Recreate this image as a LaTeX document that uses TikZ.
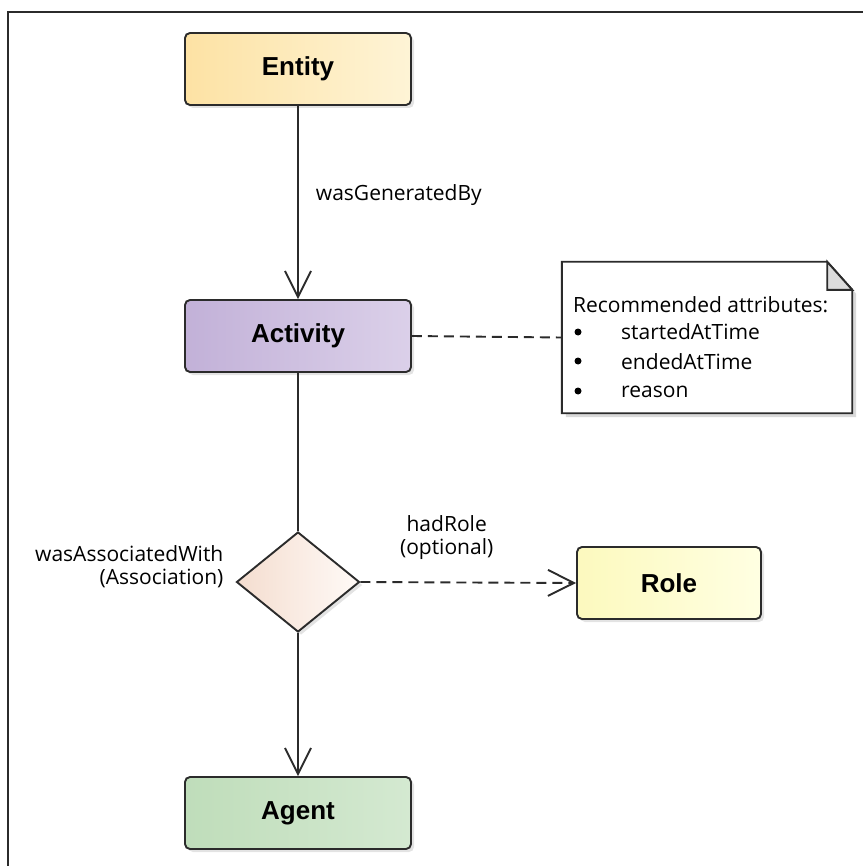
\documentclass[tikz,border=0pt]{standalone}
\usepackage{fontspec}
\setmainfont{Open Sans}
\newfontfamily\boxfont{Liberation Sans}
\usetikzlibrary{arrows.meta,shapes.geometric,shadows,calc}
\definecolor{lineC}{HTML}{2B2B2B}
\definecolor{entL}{HTML}{FDE2A4}
\definecolor{entR}{HTML}{FEF4D6}
\definecolor{actL}{HTML}{C2B1D8}
\definecolor{actR}{HTML}{DBD0E9}
\definecolor{agtL}{HTML}{BFDDBA}
\definecolor{agtR}{HTML}{D4E9D1}
\definecolor{rolL}{HTML}{FCF9BE}
\definecolor{rolR}{HTML}{FFFFE2}
\definecolor{diaL}{HTML}{F4DDCF}
\definecolor{diaR}{HTML}{FFFAF7}
\definecolor{foldC}{HTML}{DCDCDC}
\tikzset{
  classbox/.style={draw=lineC, line width=1.9pt, rounded corners=5pt,
    minimum width=226pt, minimum height=72pt, inner sep=0pt,
    font=\boxfont\bfseries\fontsize{26}{29}\selectfont,
    drop shadow={opacity=0.22, shadow xshift=3pt, shadow yshift=-3pt}},
  lbl/.style={font=\fontsize{21}{23}\selectfont, text=black, inner sep=0pt, align=center},
  bul/.style={circle, fill=black, inner sep=0pt, minimum size=7pt},
  conn/.style={draw=lineC, line width=1.9pt},
  openhead/.style={-{Straight Barb[length=26pt,width=26pt,line width=1.9pt]}},
  dashpat/.style={dash pattern=on 10pt off 6pt}
}
\begin{document}
\begin{tikzpicture}[x=1pt,y=-1pt]
\useasboundingbox (0,0) rectangle (863,866);
% frame
\draw[lineC, line width=1.6pt] (8,866) -- (8,12) -- (863,12);

% nodes
\node[classbox, left color=entL, right color=entR] (entity) at (298,69) {Entity};
\node[classbox, left color=actL, right color=actR] (activity) at (298,336) {Activity};
\node[classbox, left color=agtL, right color=agtR] (agent) at (298,813) {Agent};
\node[classbox, left color=rolL, right color=rolR, minimum width=184pt] (role) at (669,583) {Role};
\node[diamond, draw=lineC, line width=1.9pt, left color=diaL, right color=diaR,
      minimum width=123pt, minimum height=100pt, aspect=1.23, inner sep=0pt,
      drop shadow={opacity=0.22, shadow xshift=3pt, shadow yshift=-3pt}] (assoc) at (298,582) {};

% note
\node[minimum width=290pt, minimum height=151pt, inner sep=0pt] (note) at (707,337.5) {};
\fill[black, opacity=0.15] ($(note.north west)+(4,4)$) -- ($(note.north east)+(-21,4)$) -- ($(note.north east)+(4,32)$) -- ($(note.south east)+(4,4)$) -- ($(note.south west)+(4,4)$) -- cycle;
\filldraw[fill=white, draw=lineC, line width=1.9pt, line join=miter]
  (note.north west) -- ($(note.north east)+(-25,0)$) -- ($(note.north east)+(0,28)$) -- (note.south east) -- (note.south west) -- cycle;
\filldraw[fill=foldC, draw=lineC, line width=1.9pt, line join=miter]
  ($(note.north east)+(-25,0)$) -- ($(note.north east)+(-25,28)$) -- ($(note.north east)+(0,28)$) -- cycle;
\node[lbl, anchor=west] (nt) at (573,305) {Recommended attributes:};
\node[bul] (b1) at (578,332) {};
\node[bul] (b2) at (578,361) {};
\node[bul] (b3) at (578,391) {};
\node[lbl, anchor=west] (i1) at (621,332) {startedAtTime};
\node[lbl, anchor=west] (i2) at (621,362) {endedAtTime};
\node[lbl, anchor=west] (i3) at (621,392) {reason};

% connectors
\draw[conn, openhead] (entity.south) -- node[lbl, pos=0.46, anchor=west, xshift=17pt] (genlbl) {wasGeneratedBy} (activity.north);
\draw[conn] (activity.south) -- (assoc.north);
\draw[conn, openhead] (assoc.south) -- (agent.north);
\draw[conn, dashpat, openhead] (assoc.east) -- node[lbl, pos=0.40, anchor=south, yshift=22pt] (rolelbl) {hadRole\\(optional)} (role.west);
\draw[conn, dashpat] (activity.east) -- (note.west);
\node[lbl, align=right, anchor=east] (assoclbl) at ($(assoc.west)+(-12,-15)$) {wasAssociatedWith\\(Association)};
\end{tikzpicture}
\end{document}
